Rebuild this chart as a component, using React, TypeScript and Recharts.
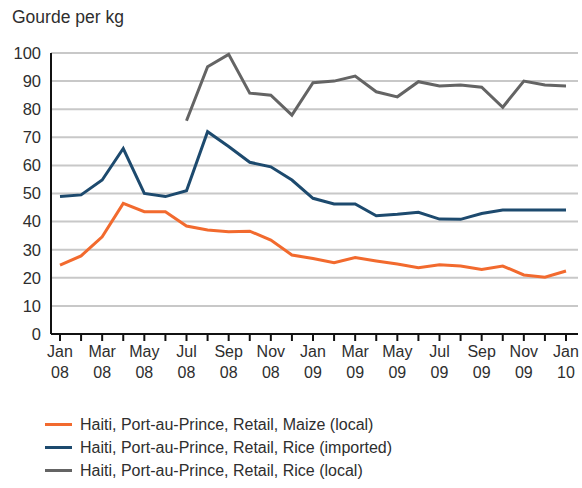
import React from 'react';
import { LineChart, Line, XAxis, YAxis, CartesianGrid } from 'recharts';

const months = [
  'Jan 08', 'Feb 08', 'Mar 08', 'Apr 08', 'May 08', 'Jun 08', 'Jul 08', 'Aug 08', 'Sep 08', 'Oct 08', 'Nov 08', 'Dec 08',
  'Jan 09', 'Feb 09', 'Mar 09', 'Apr 09', 'May 09', 'Jun 09', 'Jul 09', 'Aug 09', 'Sep 09', 'Oct 09', 'Nov 09', 'Dec 09',
  'Jan 10',
];

const maizeLocal = [24.5, 27.8, 34.6, 46.5, 43.5, 43.5, 38.4, 37, 36.4, 36.6, 33.4, 28.1, 26.9, 25.4, 27.2, 26, 24.9, 23.6, 24.6, 24.2, 23, 24.2, 21, 20.2, 22.4];
const riceImported = [48.9, 49.5, 54.8, 66, 50, 48.9, 51, 72, 66.7, 61.1, 59.5, 54.8, 48.3, 46.3, 46.3, 42.1, 42.6, 43.3, 40.9, 40.8, 42.9, 44.1, 44.1, 44.1, 44.1];
const riceLocal = [null, null, null, null, null, null, 75.9, 95.1, 99.5, 85.7, 85, 77.9, 89.4, 90, 91.8, 86.2, 84.4, 89.8, 88.3, 88.6, 87.8, 80.7, 90, 88.6, 88.3];

const yTicks = [0, 10, 20, 30, 40, 50, 60, 70, 80, 90, 100];

const series = [
  { key: 'maize', name: 'Haiti, Port-au-Prince, Retail, Maize (local)', color: '#f26a2e', values: maizeLocal },
  { key: 'riceImp', name: 'Haiti, Port-au-Prince, Retail, Rice (imported)', color: '#1d4a6e', values: riceImported },
  { key: 'riceLoc', name: 'Haiti, Port-au-Prince, Retail, Rice (local)', color: '#646464', values: riceLocal },
];

const data = months.map((m, i) => {
  const row: Record<string, any> = { month: m };
  series.forEach((s) => { row[s.key] = s.values[i]; });
  return row;
});

const FONT = '"Liberation Sans", Arial, sans-serif';
const TEXT = '#2e2e2e';

const MonthTick = (props: any) => {
  const { x, y, payload, index } = props;
  if (index % 2 !== 0) return null;
  const [mon, yr] = String(payload.value).split(' ');
  return (
    <g transform={`translate(${x},${y})`}>
      <text textAnchor="middle" fill={TEXT} fontSize={16} fontFamily={FONT}>
        <tspan x={0} dy={14}>{mon}</tspan>
        <tspan x={0} dy={21}>{yr}</tspan>
      </text>
    </g>
  );
};

export default function App() {
  return (
    <div style={{ position: 'absolute', left: 0, top: 0, width: 582, height: 488, background: '#fff', fontFamily: FONT }}>
      <div style={{ position: 'absolute', left: 12, top: 7, fontSize: 17.5, color: TEXT }}>Gourde per kg</div>
      <LineChart width={582} height={488} data={data} margin={{ top: 53, right: 4, left: 0, bottom: 94 }}>
        <CartesianGrid vertical={false} stroke="#c8c8c8" strokeWidth={2} />
        <XAxis
          dataKey="month"
          interval={0}
          height={60}
          padding={{ left: 9, right: 12 }}
          axisLine={{ stroke: '#111', strokeWidth: 2 }}
          tickLine={{ stroke: '#111', strokeWidth: 2 }}
          tickSize={7}
          tick={<MonthTick />}
        />
        <YAxis
          domain={[0, 100]}
          ticks={yTicks}
          width={51}
          tickLine={false}
          tickMargin={4}
          axisLine={{ stroke: '#111', strokeWidth: 2 }}
          tick={{ fill: TEXT, fontSize: 16.5, fontFamily: FONT }}
        />
        {series.map((s) => (
          <Line
            key={s.key}
            dataKey={s.key}
            name={s.name}
            stroke={s.color}
            strokeWidth={3}
            dot={false}
            type="linear"
            isAnimationActive={false}
          />
        ))}
      </LineChart>
      <div style={{ position: 'absolute', left: 45, top: 413 }}>
        {series.map((s) => (
          <div key={s.key} style={{ display: 'flex', alignItems: 'center', height: 23 }}>
            <div style={{ width: 27, height: 3, background: s.color, marginRight: 8 }} />
            <span style={{ fontSize: 16, color: TEXT }}>{s.name}</span>
          </div>
        ))}
      </div>
    </div>
  );
}
